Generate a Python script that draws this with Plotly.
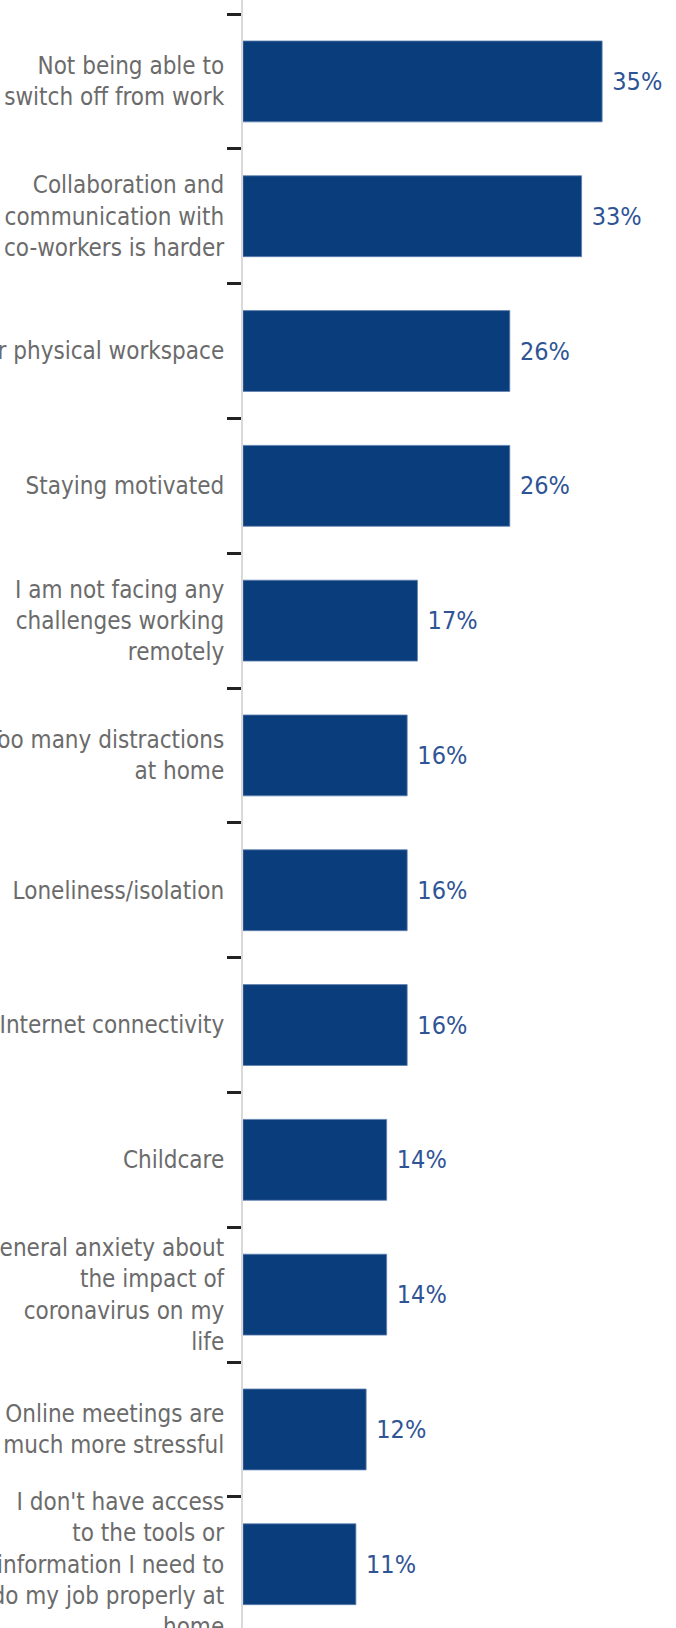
import plotly.graph_objects as go

# Remote-working challenges, share of respondents (%)
categories = [
    "Not being able to<br>switch off from work",
    "Collaboration and<br>communication with<br>co-workers is harder",
    "Lack of a proper physical workspace",
    "Staying motivated",
    "I am not facing any<br>challenges working<br>remotely",
    "Too many distractions<br>at home",
    "Loneliness/isolation",
    "Internet connectivity",
    "Childcare",
    "General anxiety about<br>the impact of<br>coronavirus on my<br>life",
    "Online meetings are<br>much more stressful",
    "I don't have access<br>to the tools or<br>information I need to<br>do my job properly at<br>home",
]
values = [35, 33, 26, 26, 17, 16, 16, 16, 14, 14, 12, 11]
value_labels = [f" {v}%" for v in values]

BAR_COLOR = "#0a3d7c"
VALUE_COLOR = "#2f5496"
LABEL_COLOR = "#6b6b6b"
FONT = "DejaVu Sans Condensed, Liberation Sans Narrow, sans-serif"

fig = go.Figure(
    go.Bar(
        x=values,
        y=categories,
        orientation="h",
        marker=dict(color=BAR_COLOR, line=dict(color="#5f80b0", width=0.8)),
        text=value_labels,
        textposition="outside",
        textfont=dict(family=FONT, size=25, color=VALUE_COLOR),
        cliponaxis=False,
        hoverinfo="skip",
    )
)

fig.update_layout(
    width=676,
    height=1628,
    margin=dict(l=243, r=0, t=0, b=0, autoexpand=False),
    paper_bgcolor="white",
    plot_bgcolor="white",
    bargap=0.4,
    showlegend=False,
    font=dict(family=FONT),
)

fig.update_xaxes(
    range=[0, 42.2],
    visible=False,
    showgrid=False,
    zeroline=False,
)

fig.update_yaxes(
    type="category",
    categoryorder="array",
    categoryarray=categories,
    range=[11.473, -0.604],
    tickson="boundaries",
    ticks="outside",
    ticklen=14,
    tickwidth=2.5,
    tickcolor="#222222",
    ticklabelstandoff=12,
    showline=True,
    linecolor="#d9d9d9",
    linewidth=2,
    showgrid=False,
    zeroline=False,
    automargin=False,
    tickfont=dict(family=FONT, size=24, color=LABEL_COLOR),
)

fig.write_html("out.html")
